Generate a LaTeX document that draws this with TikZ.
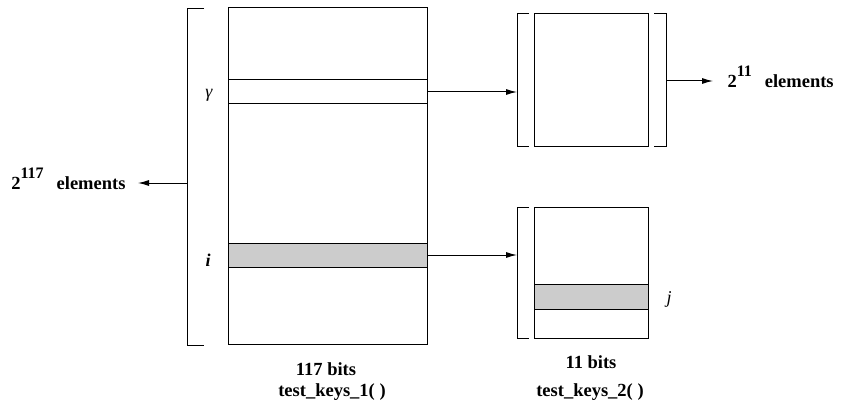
\documentclass[tikz,border=0pt]{standalone}
\usepackage{fontspec}
\setmainfont{Liberation Serif}
\usetikzlibrary{arrows.meta}
\begin{document}
\begin{tikzpicture}[x=1pt,y=-1pt,
  line width=1pt,
  cell/.style={draw, inner sep=0pt, outer sep=0pt},
  hit/.style={cell, fill=black!20},
  bracket/.style={line width=1pt},
  conn/.style={-{Latex[length=11pt,width=6pt]}},
  lab/.style={inner sep=0pt, font=\fontsize{18.5}{20}\selectfont\bfseries},
  var/.style={inner sep=0pt, font=\fontsize{18}{20}\selectfont}
]
\useasboundingbox (0,0) rectangle (844,404);
% big table
\node[cell, minimum width=199pt, minimum height=336pt] (big) at (327.5,176) {};
\node[cell, minimum width=199pt, minimum height=24pt] (g) at (327.5,92) {};
\node[hit, minimum width=199pt, minimum height=24pt] (ib) at (327.5,255) {};
% left bracket
\draw[bracket] (204,9) -- (187,9) -- (187,345) -- (204,345);
\coordinate (lb) at (187,183);
% top-right table
\node[cell, minimum width=114pt, minimum height=132pt] (tr) at (591,80) {};
\draw[bracket] (529,14) -- (517,14) -- (517,146) -- (529,146);
\draw[bracket] (654,14) -- (666,14) -- (666,146) -- (654,146);
\coordinate (trl) at (517,93);
\coordinate (trr) at (666,81);
% bottom-right table
\node[cell, minimum width=114pt, minimum height=131pt] (br) at (591,272.5) {};
\node[hit, minimum width=114pt, minimum height=25pt] (jb) at (591,296.5) {};
\draw[bracket] (529,207) -- (517,207) -- (517,338) -- (529,338);
\coordinate (brl) at (517,255);
% labels
\node[var, anchor=base] (gl) at (209,97) {\itshape γ};
\node[var, anchor=base] (il) at (208,266) {\bfseries\itshape i};
\node[var, anchor=base] (jl) at (669,303) {\itshape j};
\node[lab, anchor=base east] (el1) at (126,189) {2\raisebox{11pt}{\fontsize{16}{16}\selectfont 117}\hspace{0.45em} elements};
\node[lab, anchor=base west] (el2) at (727,88) {2\raisebox{11pt}{\fontsize{16}{16}\selectfont 11}\hspace{0.45em} elements};
\node[lab, anchor=base] (b1) at (326,375) {117 bits};
\node[lab, anchor=base] (t1) at (332,396) {test\_keys\_1( )};
\node[lab, anchor=base] (b2) at (591,368) {11 bits};
\node[lab, anchor=base] (t2) at (590,396) {test\_keys\_2( )};
\coordinate (arL) at (138,183);
\coordinate (arR) at (713,81);
% connectors
\draw[conn] (g.east) -- (g.east -| trl);
\draw[conn] (ib.east) -- (ib.east -| brl);
\draw[conn] (lb) -- (arL);
\draw[conn] (trr) -- (arR);
\end{tikzpicture}
\end{document}
